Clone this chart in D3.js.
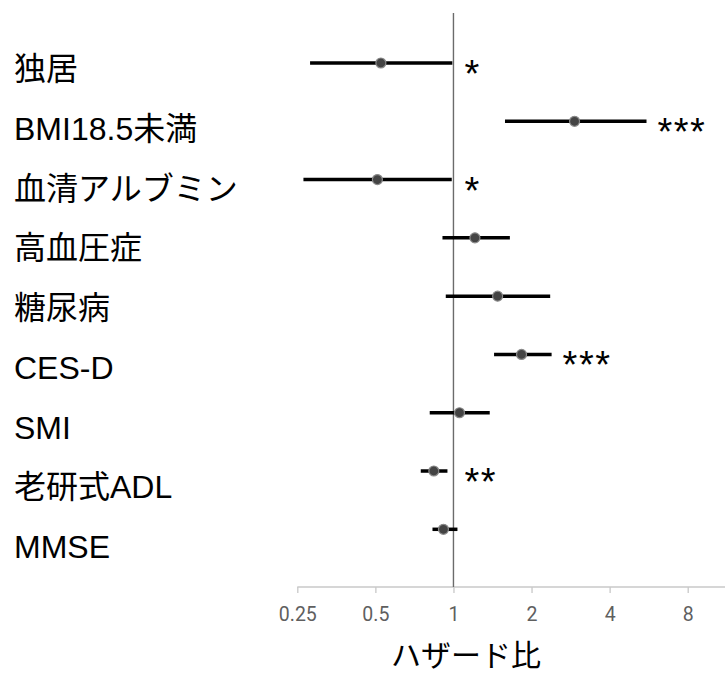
<!DOCTYPE html>
<html>
<head>
<meta charset="utf-8">
<script src="https://cdn.jsdelivr.net/npm/d3@7"></script>
<style>
  body { margin: 0; background: #fff; }
  svg { display: block; }
</style>
</head>
<body>
<svg id="chart"></svg>
<script>
// 各項目のハザード比と95%CI
const items = ["独居", "BMI18.5未満", "血清アルブミン", "高血圧症", "糖尿病", "CES-D", "SMI", "老研式ADL", "MMSE"];
const hr    = [0.525, 2.93, 0.509, 1.21, 1.48, 1.83, 1.055, 0.84, 0.915];
const lower = [0.28, 1.58, 0.264, 0.907, 0.934, 1.434, 0.81, 0.748, 0.83];
const upper = [0.99, 5.55, 0.985, 1.65, 2.36, 2.39, 1.38, 0.948, 1.036];
const stars = ["*", "***", "*", "", "", "***", "", "**", ""];
const tickVals = [0.25, 0.5, 1, 2, 4, 8];
const xTitle = "ハザード比";

const width = 725, height = 675;
const svg = d3.select("#chart").attr("width", width).attr("height", height);

const x = d3.scaleLog().base(2).domain([0.25, 8]).range([297.3, 687.7]);
const y = d3.scalePoint().domain(items).range([63, 529.3]);
const yLab = d3.scalePoint().domain(items).range([80, 558]);

// x axis
const axisY = 587;
const xAxis = svg.append("g")
    .attr("transform", "translate(0," + axisY + ")")
    .call(d3.axisBottom(x).tickValues(tickVals).tickFormat(d => String(d)).tickSize(6).tickSizeOuter(0));
xAxis.select(".domain").remove();
xAxis.append("line")
    .attr("x1", x(0.25)).attr("x2", width)
    .attr("stroke", "#c8c8c8").attr("stroke-width", 1.3);
xAxis.selectAll(".tick line").attr("stroke", "#c8c8c8").attr("stroke-width", 1.3);
xAxis.selectAll(".tick text")
    .attr("fill", "#5f5f5f")
    .attr("font-family", "Roboto, 'Liberation Sans', sans-serif")
    .attr("font-size", 19.5)
    .attr("y", 20)
    .attr("dy", "0.71em");

// reference line at HR = 1
svg.append("line")
    .attr("x1", x(1)).attr("x2", x(1))
    .attr("y1", 13).attr("y2", axisY)
    .attr("stroke", "#6b6b6b").attr("stroke-width", 1.4);

// labels
svg.append("g").selectAll("text")
    .data(items)
    .enter()
    .append("text")
    .attr("x", 14)
    .attr("y", d => yLab(d))
    .attr("font-family", "'Liberation Sans', 'Noto Sans CJK JP', sans-serif")
    .attr("font-size", 32)
    .attr("fill", "#000")
    .text(d => d);

// CI lines
const rows = items.map((d, i) => ({ name: d, hr: hr[i], lo: lower[i], hi: upper[i], sig: stars[i] }));

svg.append("g").selectAll("line")
    .data(rows)
    .enter()
    .append("line")
    .attr("x1", d => x(d.lo))
    .attr("x2", d => x(d.hi))
    .attr("y1", d => y(d.name))
    .attr("y2", d => y(d.name))
    .attr("stroke", "#000")
    .attr("stroke-width", 3.5);

// points
svg.append("g").selectAll("circle")
    .data(rows)
    .enter()
    .append("circle")
    .attr("cx", d => x(d.hr))
    .attr("cy", d => y(d.name))
    .attr("r", 5)
    .attr("fill", "#444")
    .attr("stroke", "#8a8a8a")
    .attr("stroke-width", 1.2);

// significance stars
svg.append("g").selectAll("text")
    .data(rows.filter(d => d.sig))
    .enter()
    .append("text")
    .attr("x", d => Math.max(x(d.hi), x(1)) + 11)
    .attr("y", d => y(d.name) + 24)
    .attr("font-family", "'Liberation Sans', sans-serif")
    .attr("font-size", 38)
    .attr("letter-spacing", 1.5)
    .attr("fill", "#000")
    .text(d => d.sig);

// axis title
svg.append("text")
    .attr("x", 466)
    .attr("y", 666)
    .attr("text-anchor", "middle")
    .attr("font-family", "'Noto Sans CJK JP', sans-serif")
    .attr("font-size", 30)
    .attr("fill", "#000")
    .text(xTitle);
</script>
</body>
</html>
